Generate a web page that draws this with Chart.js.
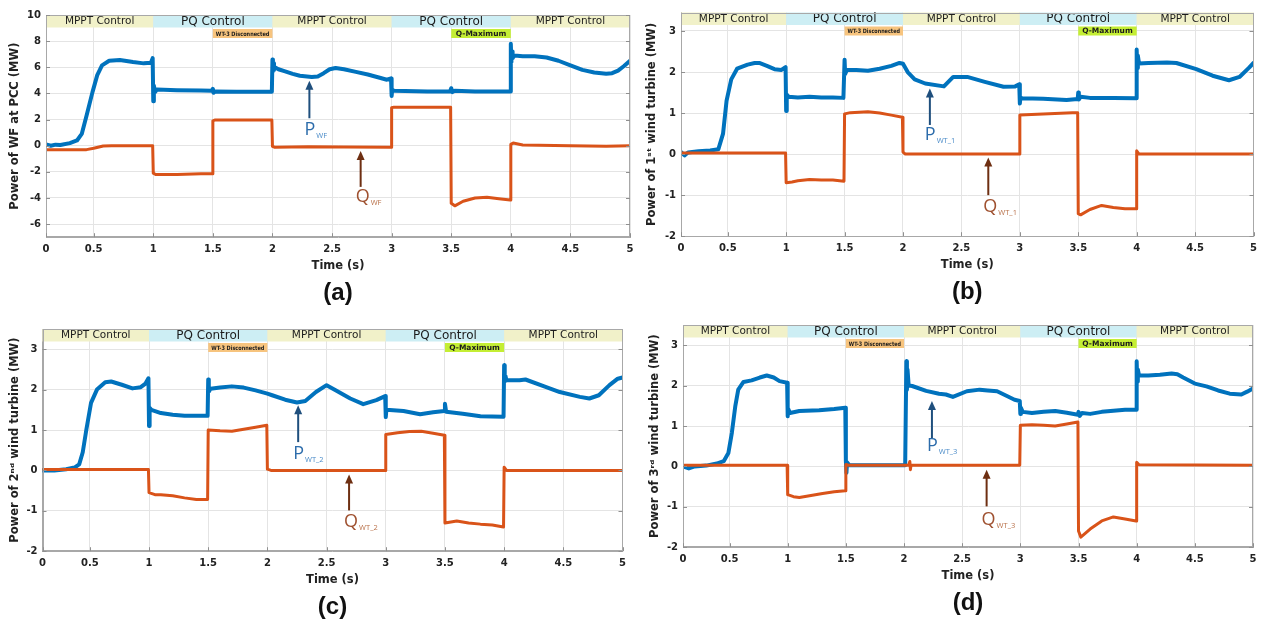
<!DOCTYPE html>
<html><head><meta charset="utf-8">
<script src="https://cdn.jsdelivr.net/npm/chart.js@4/dist/chart.umd.min.js"></script>
<style>
html,body{margin:0;padding:0;background:#fff;width:1263px;height:623px;overflow:hidden}
.p{position:absolute}
</style></head><body>
<div class="p" style="left:0px;top:0px;width:640px;height:308px"><canvas id="ca"></canvas></div>
<div class="p" style="left:640px;top:0px;width:623px;height:307px"><canvas id="cb"></canvas></div>
<div class="p" style="left:0px;top:315px;width:640px;height:307px"><canvas id="cc"></canvas></div>
<div class="p" style="left:640px;top:312px;width:623px;height:306px"><canvas id="cd"></canvas></div>
<script>
// ---- axes (the plotted time window starts at the left edge labelled "0") ----
const xStart = 0.1, xEnd = 5;
const xTickVals = [0.1,0.5,1,1.5,2,2.5,3,3.5,4,4.5,5];
const xTickLabels = ['0','0.5','1','1.5','2','2.5','3','3.5','4','4.5','5'];
const yTicksWF = [10,8,6,4,2,0,-2,-4,-6];
const yTicksWT = [3,2,1,0,-1,-2];

// ---- control modes ----
const modeStarts = [0,1,2,3,4];
const modeEnds = [1,2,3,4,5];
const modeLabels = ['MPPT Control','PQ Control','MPPT Control','PQ Control','MPPT Control'];
const eventStarts = [1.5,3.5];
const eventEnds = [2.0,4.0];
const eventLabels = ['WT-3 Disconnected','Q-Maximum'];

// ---- (a) wind farm at PCC [time s, MW] ----
const pWF = [[0.1,0.1],[0.14,0.0],[0.18,0.08],[0.22,0.05],[0.3,0.2],[0.36,0.4],[0.4,0.9],[0.44,2.3],[0.49,4.1],[0.53,5.4],[0.57,6.15],[0.63,6.5],[0.72,6.55],[0.83,6.4],[0.92,6.3],[0.98,6.35],[0.995,6.7],[1.0,3.4],[1.005,4.6],[1.015,4.1],[1.03,4.3],[1.2,4.25],[1.4,4.22],[1.49,4.2],[1.5,4.35],[1.505,4.05],[1.52,4.15],[1.7,4.13],[1.995,4.13],[2.0,6.6],[2.004,5.7],[2.008,6.3],[2.013,5.8],[2.02,6.0],[2.05,5.85],[2.1,5.7],[2.17,5.5],[2.23,5.35],[2.33,5.25],[2.38,5.3],[2.43,5.55],[2.48,5.85],[2.53,5.95],[2.6,5.85],[2.7,5.65],[2.8,5.45],[2.9,5.2],[2.96,5.05],[2.995,5.15],[3.0,3.8],[3.005,4.3],[3.02,4.2],[3.3,4.15],[3.49,4.15],[3.5,4.4],[3.51,4.1],[3.53,4.2],[3.7,4.15],[3.995,4.15],[4.0,7.8],[4.005,6.4],[4.01,7.2],[4.015,6.7],[4.03,6.9],[4.1,6.85],[4.2,6.85],[4.3,6.75],[4.4,6.5],[4.5,6.15],[4.6,5.8],[4.7,5.6],[4.8,5.5],[4.85,5.55],[4.9,5.75],[4.95,6.1],[5.0,6.5]];
const qWF = [[0.1,-0.3],[0.44,-0.3],[0.5,-0.2],[0.58,-0.02],[0.65,0.0],[0.995,0.0],[1.0,-2.1],[1.02,-2.2],[1.2,-2.2],[1.4,-2.15],[1.495,-2.15],[1.5,1.9],[1.52,1.97],[1.7,1.97],[1.995,1.97],[2.0,-0.05],[2.02,-0.12],[2.3,-0.08],[2.6,-0.1],[2.995,-0.12],[3.0,2.9],[3.02,2.95],[3.3,2.95],[3.495,2.95],[3.5,-4.4],[3.53,-4.6],[3.6,-4.25],[3.7,-4.0],[3.8,-3.95],[3.9,-4.05],[3.995,-4.15],[4.0,0.1],[4.02,0.2],[4.1,0.05],[4.5,0.0],[4.8,-0.05],[5.0,0.0]];

// ---- (b) wind turbine 1 ----
const pWT1 = [[0.1,0.05],[0.13,-0.03],[0.16,0.04],[0.25,0.07],[0.35,0.09],[0.42,0.12],[0.46,0.5],[0.49,1.3],[0.53,1.82],[0.58,2.08],[0.67,2.18],[0.73,2.22],[0.77,2.22],[0.835,2.15],[0.9,2.07],[0.96,2.05],[0.995,2.12],[1.0,1.05],[1.005,1.45],[1.02,1.4],[1.1,1.38],[1.2,1.4],[1.3,1.38],[1.4,1.38],[1.49,1.37],[1.5,2.3],[1.505,1.95],[1.52,2.05],[1.6,2.05],[1.7,2.03],[1.8,2.08],[1.9,2.15],[1.97,2.22],[2.0,2.2],[2.04,2.0],[2.1,1.82],[2.19,1.72],[2.35,1.65],[2.43,1.88],[2.55,1.88],[2.7,1.76],[2.86,1.64],[2.96,1.65],[2.995,1.7],[3.0,1.23],[3.005,1.38],[3.02,1.36],[3.2,1.35],[3.4,1.32],[3.495,1.34],[3.5,1.5],[3.505,1.33],[3.52,1.4],[3.6,1.37],[3.8,1.37],[3.995,1.36],[4.0,2.55],[4.005,2.1],[4.01,2.4],[4.02,2.21],[4.1,2.22],[4.26,2.23],[4.34,2.22],[4.51,2.07],[4.65,1.91],[4.79,1.8],[4.88,1.88],[4.96,2.1],[5.0,2.22]];
const qWT1 = [[0.1,0.03],[0.995,0.03],[1.0,-0.7],[1.05,-0.68],[1.1,-0.65],[1.2,-0.62],[1.3,-0.63],[1.4,-0.63],[1.495,-0.66],[1.5,0.98],[1.55,1.01],[1.7,1.03],[1.8,1.0],[1.9,0.95],[1.995,0.9],[2.0,0.05],[2.02,0.0],[2.995,0.0],[3.0,0.95],[3.05,0.96],[3.2,0.98],[3.45,1.01],[3.495,1.01],[3.5,-1.45],[3.52,-1.48],[3.6,-1.35],[3.7,-1.25],[3.8,-1.3],[3.9,-1.33],[3.995,-1.33],[4.0,0.08],[4.02,0.0],[5.0,0.0]];

// ---- (c) wind turbine 2 ----
const pWT2 = [[0.1,0.0],[0.2,0.0],[0.3,0.03],[0.37,0.07],[0.41,0.15],[0.44,0.45],[0.47,1.0],[0.51,1.67],[0.56,2.0],[0.63,2.18],[0.68,2.2],[0.77,2.12],[0.86,2.03],[0.93,2.06],[0.97,2.15],[0.995,2.28],[1.0,1.1],[1.005,1.55],[1.02,1.5],[1.1,1.42],[1.2,1.38],[1.3,1.35],[1.4,1.35],[1.495,1.35],[1.5,2.25],[1.505,1.95],[1.52,2.02],[1.6,2.05],[1.7,2.08],[1.8,2.05],[1.9,1.98],[2.0,1.9],[2.04,1.86],[2.15,1.75],[2.25,1.68],[2.32,1.72],[2.41,1.94],[2.5,2.11],[2.58,1.98],[2.7,1.78],[2.81,1.64],[2.92,1.74],[2.995,1.84],[3.0,1.32],[3.005,1.5],[3.15,1.47],[3.29,1.39],[3.4,1.44],[3.495,1.47],[3.5,1.65],[3.51,1.45],[3.65,1.4],[3.8,1.34],[3.995,1.33],[4.0,2.6],[4.005,2.2],[4.01,2.35],[4.02,2.23],[4.13,2.23],[4.18,2.25],[4.35,2.07],[4.47,1.94],[4.64,1.82],[4.72,1.78],[4.8,1.86],[4.89,2.11],[4.96,2.27],[5.0,2.3]];
const qWT2 = [[0.1,0.02],[0.995,0.02],[1.0,-0.55],[1.05,-0.6],[1.1,-0.6],[1.2,-0.63],[1.3,-0.68],[1.4,-0.72],[1.495,-0.72],[1.5,1.0],[1.6,0.98],[1.7,0.97],[1.8,1.02],[1.9,1.07],[1.995,1.12],[2.0,0.03],[2.03,0.0],[2.995,0.0],[3.0,0.89],[3.1,0.93],[3.2,0.96],[3.3,0.97],[3.4,0.92],[3.495,0.87],[3.5,-1.3],[3.6,-1.25],[3.7,-1.3],[3.8,-1.33],[3.9,-1.35],[3.995,-1.4],[4.0,0.08],[4.02,0.0],[5.0,0.0]];

// ---- (d) wind turbine 3 ----
const pWT3 = [[0.1,0.0],[0.15,-0.05],[0.2,0.0],[0.3,0.02],[0.39,0.07],[0.45,0.13],[0.49,0.33],[0.52,0.83],[0.55,1.5],[0.575,1.9],[0.62,2.09],[0.69,2.13],[0.76,2.2],[0.82,2.25],[0.88,2.2],[0.93,2.11],[0.995,2.07],[1.0,1.24],[1.005,1.42],[1.02,1.32],[1.1,1.37],[1.27,1.39],[1.4,1.42],[1.495,1.45],[1.5,0.13],[1.505,-0.16],[1.51,0.1],[1.53,0.03],[2.01,0.03],[2.02,2.6],[2.025,1.9],[2.03,2.4],[2.04,2.0],[2.07,1.99],[2.19,1.87],[2.3,1.8],[2.36,1.78],[2.42,1.72],[2.54,1.86],[2.65,1.9],[2.72,1.88],[2.8,1.86],[2.88,1.75],[2.95,1.65],[2.995,1.62],[3.0,1.3],[3.005,1.45],[3.02,1.35],[3.1,1.32],[3.2,1.35],[3.3,1.37],[3.4,1.33],[3.495,1.28],[3.5,1.35],[3.51,1.25],[3.53,1.32],[3.6,1.3],[3.7,1.35],[3.8,1.38],[3.9,1.4],[3.995,1.4],[4.0,2.6],[4.005,2.1],[4.01,2.4],[4.02,2.25],[4.1,2.25],[4.2,2.27],[4.3,2.3],[4.35,2.28],[4.4,2.2],[4.5,2.05],[4.6,1.98],[4.7,1.88],[4.8,1.8],[4.9,1.78],[4.95,1.85],[5.0,1.93]];
const qWT3 = [[0.1,0.03],[0.995,0.03],[1.0,-0.7],[1.05,-0.75],[1.1,-0.77],[1.2,-0.72],[1.3,-0.67],[1.4,-0.63],[1.495,-0.6],[1.5,0.05],[1.52,0.03],[2.04,0.03],[2.05,0.12],[2.055,-0.08],[2.06,0.03],[2.995,0.03],[3.0,1.02],[3.1,1.03],[3.2,1.02],[3.3,1.0],[3.4,1.05],[3.495,1.1],[3.5,-1.6],[3.52,-1.75],[3.6,-1.55],[3.7,-1.35],[3.8,-1.25],[3.9,-1.3],[3.995,-1.35],[4.0,0.1],[4.02,0.04],[5.0,0.03]];

// ---- arrow labels (time, arrow tip, arrow tail, letter baseline) in data units ----
const marksA = [{k:'P',sub:'WF',t:2.31,tip:4.97,tail:2.1,base:0.85},{k:'Q',sub:'WF',t:2.74,tip:-0.4,tail:-3.15,base:-4.3}];
const marksB = [{k:'P',sub:'WT_1',t:2.23,tip:1.6,tail:0.71,base:0.34},{k:'Q',sub:'WT_1',t:2.73,tip:-0.08,tail:-1.0,base:-1.42}];
const marksC = [{k:'P',sub:'WT_2',t:2.26,tip:1.61,tail:0.7,base:0.28},{k:'Q',sub:'WT_2',t:2.69,tip:-0.1,tail:-0.99,base:-1.4}];
const marksD = [{k:'P',sub:'WT_3',t:2.24,tip:1.62,tail:0.7,base:0.37},{k:'Q',sub:'WT_3',t:2.71,tip:-0.08,tail:-0.99,base:-1.45}];

const BLUE = 'rgb(0,114,189)', ORANGE = 'rgb(217,83,25)';
const FONT = '"DejaVu Sans", sans-serif';

const decor = {
  id: 'decor',
  beforeDatasetsDraw(chart) {
    const {ctx, chartArea: ca, scales: {x}} = chart;
    const barH = 12.5;
    ctx.save();
    ctx.textAlign = 'center'; ctx.textBaseline = 'middle';
    modeStarts.forEach((s, i) => {
      const x0 = Math.max(ca.left, x.getPixelForValue(s)), x1 = Math.min(ca.right, x.getPixelForValue(modeEnds[i]));
      const pq = modeLabels[i].indexOf('PQ') === 0;
      ctx.fillStyle = pq ? '#cdeef4' : '#f1f1c9';
      ctx.fillRect(x0, ca.top, x1 - x0, barH);
      ctx.fillStyle = '#1c1c1c';
      ctx.font = (pq ? '12px ' : '10.5px ') + FONT;
      ctx.fillText(modeLabels[i], (x0 + x1) / 2, ca.top + barH / 2 + 0.5);
    });
    eventStarts.forEach((s, i) => {
      const x0 = x.getPixelForValue(s), x1 = x.getPixelForValue(eventEnds[i]);
      const ty = ca.top + barH + 1.5, th = 9;
      ctx.fillStyle = i === 0 ? '#f7c47e' : '#c4ee34';
      ctx.fillRect(x0, ty, x1 - x0, th);
      ctx.fillStyle = '#1c1c1c';
      ctx.font = (i === 0 ? 'bold 6px ' : 'bold 7.5px ') + FONT;
      ctx.fillText(eventLabels[i], (x0 + x1) / 2, ty + th / 2 + 0.5, x1 - x0 - 6);
    });
    ctx.restore();
  },
  afterDatasetsDraw(chart, args, opts) {
    const {ctx, chartArea: ca, scales: {x, y}} = chart;
    ctx.save();
    ctx.strokeStyle = '#a8a8a8'; ctx.lineWidth = 1;
    ctx.strokeRect(Math.round(ca.left) + 0.5, Math.round(ca.top) + 0.5, Math.round(ca.right - ca.left) - 1, Math.round(ca.bottom - ca.top) - 1);
    ctx.strokeStyle = '#909090';
    ctx.beginPath();
    y.ticks.forEach(t => {
      const py = Math.round(y.getPixelForValue(t.value)) + 0.5;
      ctx.moveTo(ca.left, py); ctx.lineTo(ca.left + 4, py);
      ctx.moveTo(ca.right - 4, py); ctx.lineTo(ca.right, py);
    });
    x.ticks.forEach(t => {
      const px = Math.round(x.getPixelForValue(t.value)) + 0.5;
      ctx.moveTo(px, ca.bottom); ctx.lineTo(px, ca.bottom - 4);
    });
    ctx.stroke();
    (opts.marks || []).forEach(m => {
      const isP = m.k === 'P';
      const px = x.getPixelForValue(m.t);
      const yTip = y.getPixelForValue(m.tip), yTail = y.getPixelForValue(m.tail);
      const col = isP ? '#1f4f7d' : '#6e2f12';
      ctx.strokeStyle = col; ctx.fillStyle = col; ctx.lineWidth = 2;
      ctx.beginPath(); ctx.moveTo(px, yTail); ctx.lineTo(px, yTip + 6); ctx.stroke();
      ctx.beginPath(); ctx.moveTo(px, yTip); ctx.lineTo(px - 4, yTip + 9); ctx.lineTo(px + 4, yTip + 9); ctx.closePath(); ctx.fill();
      const by = y.getPixelForValue(m.base);
      ctx.textAlign = 'left'; ctx.textBaseline = 'alphabetic';
      ctx.font = '18px "Open Sans", sans-serif';
      ctx.fillStyle = isP ? '#2c6cab' : '#9f5130';
      const lx = px - 5;
      ctx.fillText(m.k, lx, by);
      const w = ctx.measureText(m.k).width;
      ctx.font = '7.5px "Open Sans", sans-serif';
      ctx.fillStyle = isP ? '#4a8bc8' : '#b9714a';
      ctx.fillText(m.sub, lx + w + 1, by + 3);
    });
    ctx.restore();
  }
};

function makeChart(id, pData, qData, yMin, yMax, yTicks, yTitle, panel, padTop, padRight, yAxisW, yTitlePad, marks) {
  return new Chart(document.getElementById(id), {
    type: 'line',
    data: {
      datasets: [
        {data: pData.map(d => ({x: d[0], y: d[1]})), borderColor: BLUE, borderWidth: 4, order: 1},
        {data: qData.map(d => ({x: d[0], y: d[1]})), borderColor: ORANGE, borderWidth: 3, order: 0}
      ]
    },
    options: {
      responsive: true, maintainAspectRatio: false, animation: false, events: [],
      elements: {point: {radius: 0}, line: {tension: 0, borderJoinStyle: 'round', borderCapStyle: 'round'}},
      layout: {padding: {top: padTop, right: padRight, left: 0, bottom: 0}},
      plugins: {
        legend: {display: false}, tooltip: {enabled: false},
        title: {display: true, position: 'bottom', fullSize: false, text: panel, color: '#111',
                font: {family: '"Liberation Sans", Arial, sans-serif', size: 24, weight: 'bold'}, padding: {top: 2, bottom: 0}},
        decor: {marks: marks}
      },
      scales: {
        x: {
          type: 'linear', min: xStart, max: xEnd,
          afterBuildTicks: s => { s.ticks = xTickVals.map(v => ({value: v})); },
          afterFit: s => { s.height = 40; },
          ticks: {autoSkip: false, maxRotation: 0, padding: 6, color: '#222',
                  font: {family: FONT, size: 10, weight: 'bold'},
                  callback: (v, i) => xTickLabels[i]},
          grid: {color: '#e4e4e4', drawTicks: false},
          border: {display: true, color: '#a8a8a8'},
          title: {display: true, text: 'Time (s)', color: '#222', font: {family: FONT, size: 11.5, weight: 'bold'}, padding: {top: 0, bottom: 4}}
        },
        y: {
          type: 'linear', min: yMin, max: yMax,
          afterBuildTicks: s => { s.ticks = yTicks.map(v => ({value: v})); },
          afterFit: s => { s.width = yAxisW; },
          ticks: {padding: 5, color: '#222', font: {family: FONT, size: 10, weight: 'bold'},
                  callback: (v, i) => String(yTicks[i])},
          grid: {color: '#e4e4e4', drawTicks: false},
          border: {display: true, color: '#a8a8a8'},
          title: {display: true, text: yTitle, color: '#222', font: {family: FONT, size: 11.5, weight: 'bold'}, padding: {top: yTitlePad, bottom: 0}}
        }
      }
    },
    plugins: [decor]
  });
}

makeChart('ca', pWF, qWF, -7, 10, yTicksWF, 'Power of WF at PCC (MW)', '(a)', 15, 10, 46, 8, marksA);
makeChart('cb', pWT1, qWT1, -2, 3.45, yTicksWT, 'Power of 1\u02e2\u1d57 wind turbine (MW)', '(b)', 12.5, 5, 41, 5, marksB);
makeChart('cc', pWT2, qWT2, -2, 3.5, yTicksWT, 'Power of 2\u207f\u1d48 wind turbine (MW)', '(c)', 14, 17.5, 42.5, 8, marksC);
makeChart('cd', pWT3, qWT3, -2, 3.5, yTicksWT, 'Power of 3\u02b3\u1d48 wind turbine (MW)', '(d)', 13, 10, 43, 8, marksD);
</script>
</body></html>
